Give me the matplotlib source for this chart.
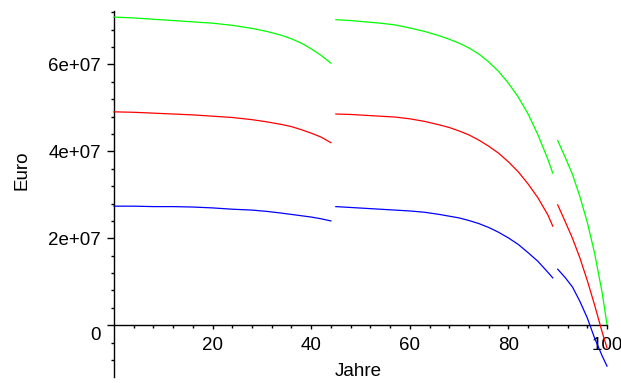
import matplotlib
matplotlib.use('Agg')
import matplotlib.pyplot as plt
import numpy as np

plt.rcParams['font.family'] = ['Liberation Sans', 'DejaVu Sans']
plt.rcParams['font.size'] = 13.5

# Jahre, drei Abschnitte
t1 = [0, 4, 8, 12, 16, 20, 24, 28, 31, 34, 36, 38, 40, 42, 44]
t2 = [45, 48, 51, 54, 57, 60, 63, 66, 68, 70, 72, 74, 76, 78, 80, 82, 84, 86, 88, 89]
t3 = [90, 91.5, 93, 94.5, 96, 97.5, 99, 100]

# Werte in 1e7 Euro
green1 = [7.09, 7.07, 7.04, 7.01, 6.98, 6.95, 6.90, 6.83, 6.76, 6.67, 6.59, 6.49, 6.36, 6.21, 6.03]
red1 = [4.91, 4.90, 4.88, 4.86, 4.84, 4.81, 4.78, 4.73, 4.68, 4.62, 4.57, 4.50, 4.42, 4.33, 4.20]
blue1 = [2.74, 2.74, 2.73, 2.73, 2.72, 2.70, 2.67, 2.65, 2.62, 2.58, 2.55, 2.52, 2.49, 2.45, 2.40]

green2 = [7.03, 7.01, 6.98, 6.95, 6.91, 6.84, 6.76, 6.66, 6.58, 6.49, 6.38, 6.24, 6.06, 5.84,
          5.57, 5.25, 4.86, 4.38, 3.82, 3.50]
red2 = [4.86, 4.85, 4.83, 4.81, 4.79, 4.75, 4.69, 4.61, 4.55, 4.47, 4.38, 4.26, 4.12, 3.96,
        3.76, 3.53, 3.25, 2.93, 2.54, 2.28]
blue2 = [2.73, 2.71, 2.69, 2.67, 2.65, 2.63, 2.60, 2.55, 2.51, 2.47, 2.41, 2.34, 2.25, 2.14,
         2.01, 1.86, 1.67, 1.47, 1.22, 1.09]

green3 = [4.25, 3.87, 3.47, 2.96, 2.37, 1.65, 0.76, 0.02]
red3 = [2.77, 2.39, 2.00, 1.55, 1.03, 0.46, -0.15, -0.52]
blue3 = [1.29, 1.10, 0.88, 0.55, 0.17, -0.30, -0.70, -0.94]

xticks = [20, 40, 60, 80, 100]
yticks = [2e7, 4e7, 6e7]
ytick_labels = ['2e+07', '4e+07', '6e+07']

W, H = 621, 383
fig = plt.figure(figsize=(W / 100, H / 100), dpi=100)
ax = fig.add_axes([114 / W, 6 / H, 493 / W, 366 / H])

series = [
    ('#00ff00', [(t1, green1), (t2, green2), (t3, green3)]),
    ('#ff0000', [(t1, red1), (t2, red2), (t3, red3)]),
    ('#0000ff', [(t1, blue1), (t2, blue2), (t3, blue3)]),
]
for col, parts in series:
    for tt, vv in parts:
        ax.plot(tt, np.array(vv) * 1e7, color=col, lw=0.9, clip_on=False, zorder=3)

ax.set_xlim(0, 100)
ax.set_ylim(-1.19e7, 7.23e7)

ax.spines['top'].set_visible(False)
ax.spines['right'].set_visible(False)
ax.spines['bottom'].set_position(('data', 0))
for s in ['left', 'bottom']:
    ax.spines[s].set_linewidth(1.0)
    ax.spines[s].set_color('black')

ax.set_xticks(xticks)
ax.set_xticklabels([str(x) for x in xticks])
ax.set_xticks(np.arange(4, 100, 4), minor=True)
ax.set_yticks([0] + yticks)
ax.set_yticklabels([''] + ytick_labels)
ax.set_yticks(np.arange(-0.8e7, 7.3e7, 0.4e7), minor=True)

ax.tick_params(axis='x', which='major', direction='out', length=2.9, width=1, pad=5.5)
ax.tick_params(axis='x', which='minor', direction='out', length=2.2, width=1)
ax.tick_params(axis='y', which='major', direction='out', length=5, width=1, pad=4.5)
ax.tick_params(axis='y', which='minor', direction='out', length=2.4, width=1)

# "0" sitzt etwas unter der x-Achse
ax.annotate('0', xy=(0, 0), xycoords='data', xytext=(-9.3, -7.2),
            textcoords='offset points', ha='right', va='center')

fig.text(358 / W, 1 - 372 / H, 'Jahre', ha='center', va='center')
fig.text(21.5 / W, 1 - 170 / H, 'Euro', ha='center', va='center', rotation=90)

fig.savefig('out.png', dpi=100)
